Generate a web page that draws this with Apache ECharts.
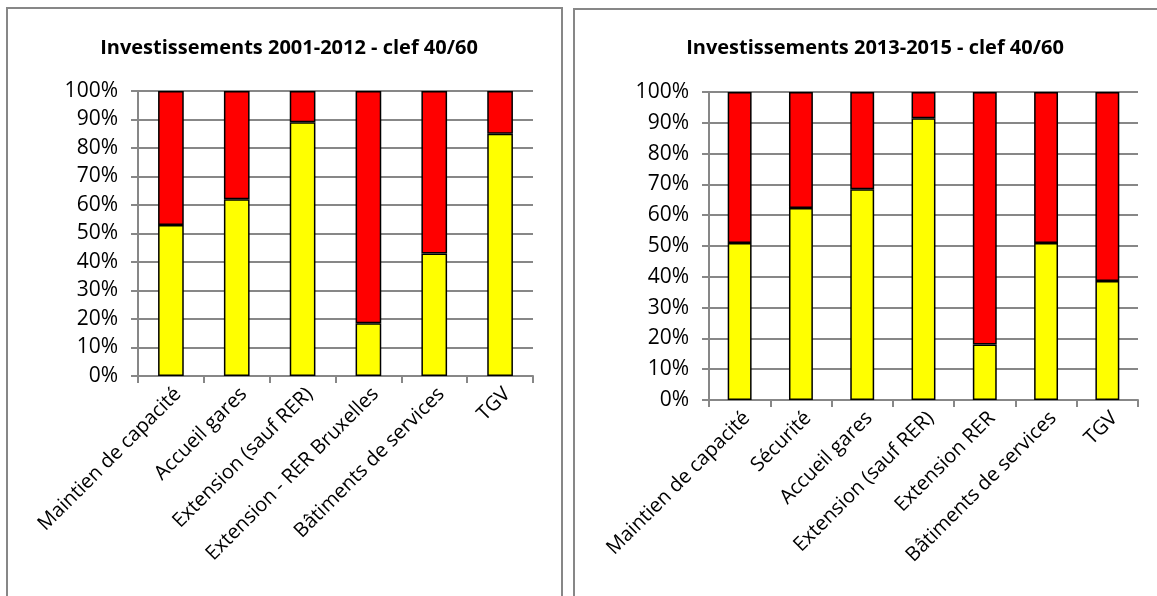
<!DOCTYPE html>
<html>
<head>
<meta charset="utf-8">
<script src="https://cdn.jsdelivr.net/npm/echarts@6/dist/echarts.min.js"></script>
<style>
  html, body { margin: 0; padding: 0; background: #fff; }
  #chart { width: 1157px; height: 596px; }
</style>
</head>
<body>
<div id="chart"></div>
<script>
// Left panel: 2001-2012
const titleA = 'Investissements 2001-2012 - clef 40/60';
const categoriesA = ['Maintien de capacité', 'Accueil gares', 'Extension (sauf RER)', 'Extension - RER Bruxelles', 'Bâtiments de services', 'TGV'];
const share40A = [53, 62, 89, 18.5, 43, 85];
const share60A = [47, 38, 11, 81.5, 57, 15];

// Right panel: 2013-2015
const titleB = 'Investissements 2013-2015 - clef 40/60';
const categoriesB = ['Maintien de capacité', 'Sécurité', 'Accueil gares', 'Extension (sauf RER)', 'Extension RER', 'Bâtiments de services', 'TGV'];
const share40B = [51, 62.3, 68.4, 91.5, 18, 51, 38.6];
const share60B = [49, 37.7, 31.6, 8.5, 82, 49, 61.4];

const FONT = '"Open Sans", "Noto Sans", sans-serif';
const GRID_COLOR = '#878787';

function xAxisFor(idx, cats) {
  return {
    type: 'category', gridIndex: idx, data: cats,
    axisLine: { show: true, lineStyle: { color: GRID_COLOR, width: 2 } },
    axisTick: { show: true, length: 7, alignWithLabel: false, lineStyle: { color: GRID_COLOR, width: 2 } },
    axisLabel: { rotate: 45, margin: 8, verticalAlign: 'top', color: '#000', fontFamily: FONT, fontSize: 20, interval: 0 },
    splitLine: { show: false }
  };
}
function yAxisFor(idx) {
  return {
    type: 'value', gridIndex: idx, min: 0, max: 100, interval: 10,
    axisLine: { show: true, lineStyle: { color: GRID_COLOR, width: 2 } },
    axisTick: { show: true, length: 7, lineStyle: { color: GRID_COLOR, width: 2 } },
    axisLabel: { margin: 20, color: '#000', fontFamily: FONT, fontSize: 21, formatter: v => v + '%' },
    splitLine: { show: true, lineStyle: { color: GRID_COLOR, width: 2 } }
  };
}
function barSeries(idx, stack, data, color) {
  return {
    type: 'bar', xAxisIndex: idx, yAxisIndex: idx, stack: stack, data: data,
    barWidth: '39%',
    itemStyle: { color: color, borderColor: '#000', borderWidth: 1.5 },
    emphasis: { disabled: true }, animation: false
  };
}

const chart = echarts.init(document.getElementById('chart'), null, { renderer: 'canvas' });
chart.setOption({
  backgroundColor: '#fff',
  animation: false,
  title: [
    { text: titleA, left: 284, top: 33, textAlign: 'center',
      textStyle: { fontFamily: FONT, fontWeight: 'bold', fontSize: 20, color: '#000' } },
    { text: titleB, left: 870, top: 33, textAlign: 'center',
      textStyle: { fontFamily: FONT, fontWeight: 'bold', fontSize: 20, color: '#000' } }
  ],
  graphic: [
    { type: 'rect', shape: { x: 7, y: 8, width: 555, height: 700 },
      style: { fill: 'none', stroke: GRID_COLOR, lineWidth: 2 }, silent: true },
    { type: 'rect', shape: { x: 574, y: 9, width: 700, height: 700 },
      style: { fill: 'none', stroke: GRID_COLOR, lineWidth: 2 }, silent: true }
  ],
  grid: [
    { left: 138, top: 91, width: 395, height: 285, containLabel: false },
    { left: 709, top: 92, width: 429, height: 308, containLabel: false }
  ],
  xAxis: [xAxisFor(0, categoriesA), xAxisFor(1, categoriesB)],
  yAxis: [yAxisFor(0), yAxisFor(1)],
  series: [
    barSeries(0, 'a', share40A, '#FFFF00'),
    barSeries(0, 'a', share60A, '#FF0000'),
    barSeries(1, 'b', share40B, '#FFFF00'),
    barSeries(1, 'b', share60B, '#FF0000')
  ]
});
</script>
</body>
</html>
